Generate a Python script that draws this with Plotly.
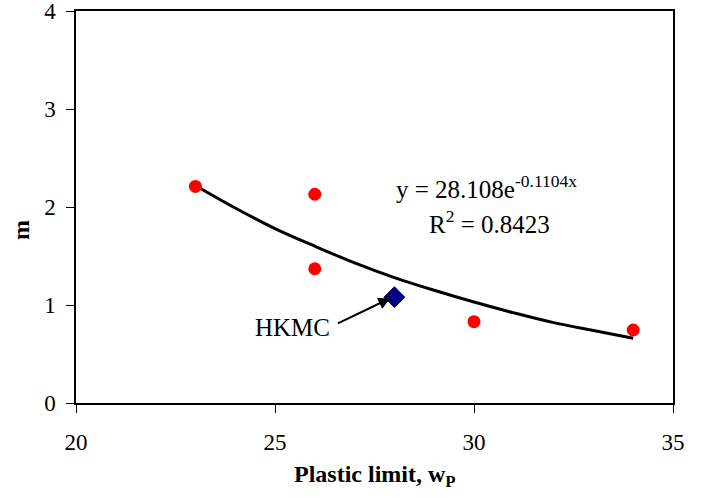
import plotly.graph_objects as go

# Data
wp = [23, 26, 26, 30, 34]
m_vals = [2.21, 2.13, 1.37, 0.83, 0.745]
hkmc_wp = [28]
hkmc_m = [1.08]
trend_x = [23, 24, 25, 26, 27, 28, 29, 30, 31, 32, 33, 34]
trend_y = [2.22, 1.99, 1.78, 1.60, 1.43, 1.28, 1.15, 1.03, 0.92, 0.82, 0.74, 0.66]
x_ticks = [20, 25, 30, 35]
y_ticks = [0, 1, 2, 3, 4]

FONT = "Liberation Serif"
L, R, T, B = 76, 38, 11, 94
W, H = 711, 497
PW, PH = W - L - R, H - T - B


def px(xp):
    return (xp - L) / PW


def py(yp):
    return (H - B - yp) / PH


fig = go.Figure()
fig.add_trace(go.Scatter(x=trend_x, y=trend_y, mode="lines",
                         line=dict(color="black", width=3, shape="spline"),
                         showlegend=False, hoverinfo="skip"))
fig.add_trace(go.Scatter(x=wp, y=m_vals, mode="markers",
                         marker=dict(color="#ff0000", size=13, line=dict(width=0)),
                         showlegend=False))
fig.add_trace(go.Scatter(x=hkmc_wp, y=hkmc_m, mode="markers",
                         marker=dict(color="#000080", symbol="diamond", size=16,
                                     line=dict(color="#000040", width=1)),
                         showlegend=False))

fig.add_annotation(x=27.9, y=1.07, xref="x", yref="y", text="", showarrow=True,
                   ax=-54, ay=26, arrowhead=2, arrowsize=1.2, arrowwidth=2,
                   arrowcolor="black", standoff=0)
fig.add_annotation(x=25.43, y=0.775, xref="x", yref="y", text="HKMC", showarrow=False,
                   font=dict(family=FONT, size=25, color="black"))
fig.add_annotation(x=28.0, y=2.2, xref="x", yref="y", xanchor="left",
                   text="y = 28.108e<sup>-0.1104x</sup>", showarrow=False,
                   font=dict(family=FONT, size=25, color="black"))
fig.add_annotation(x=30.4, y=1.85, xref="x", yref="y",
                   text="R<sup>2</sup> = 0.8423", showarrow=False,
                   font=dict(family=FONT, size=25, color="black"))

# axis titles
fig.add_annotation(x=px(375), y=py(476), xref="paper", yref="paper",
                   xanchor="center", yanchor="middle",
                   text="<b>Plastic limit, w<sub>P</sub></b>", showarrow=False,
                   font=dict(family=FONT, size=24, color="black"))
fig.add_annotation(x=px(21), y=py(230), xref="paper", yref="paper",
                   xanchor="center", yanchor="middle",
                   text="<b>m</b>", showarrow=False, textangle=-90,
                   font=dict(family=FONT, size=24, color="black"))

axis_common = dict(showgrid=False, zeroline=False, showline=True, linecolor="black",
                   linewidth=2, mirror=True, ticks="outside", ticklen=8,
                   tickcolor="black", tickwidth=1, automargin=False,
                   ticklabeloverflow="allow",
                   tickfont=dict(family=FONT, size=23, color="black"))

fig.update_xaxes(range=[20, 35], tickvals=x_ticks, ticktext=[str(v) for v in x_ticks],
                 ticklabelstandoff=9, **axis_common)
fig.update_yaxes(range=[0, 4], tickvals=y_ticks,
                 ticktext=[str(v) + "\u00a0" for v in y_ticks],
                 **axis_common)

fig.update_layout(width=W, height=H, margin=dict(l=L, r=R, t=T, b=B),
                  plot_bgcolor="white", paper_bgcolor="white")

fig.write_html("out.html")
